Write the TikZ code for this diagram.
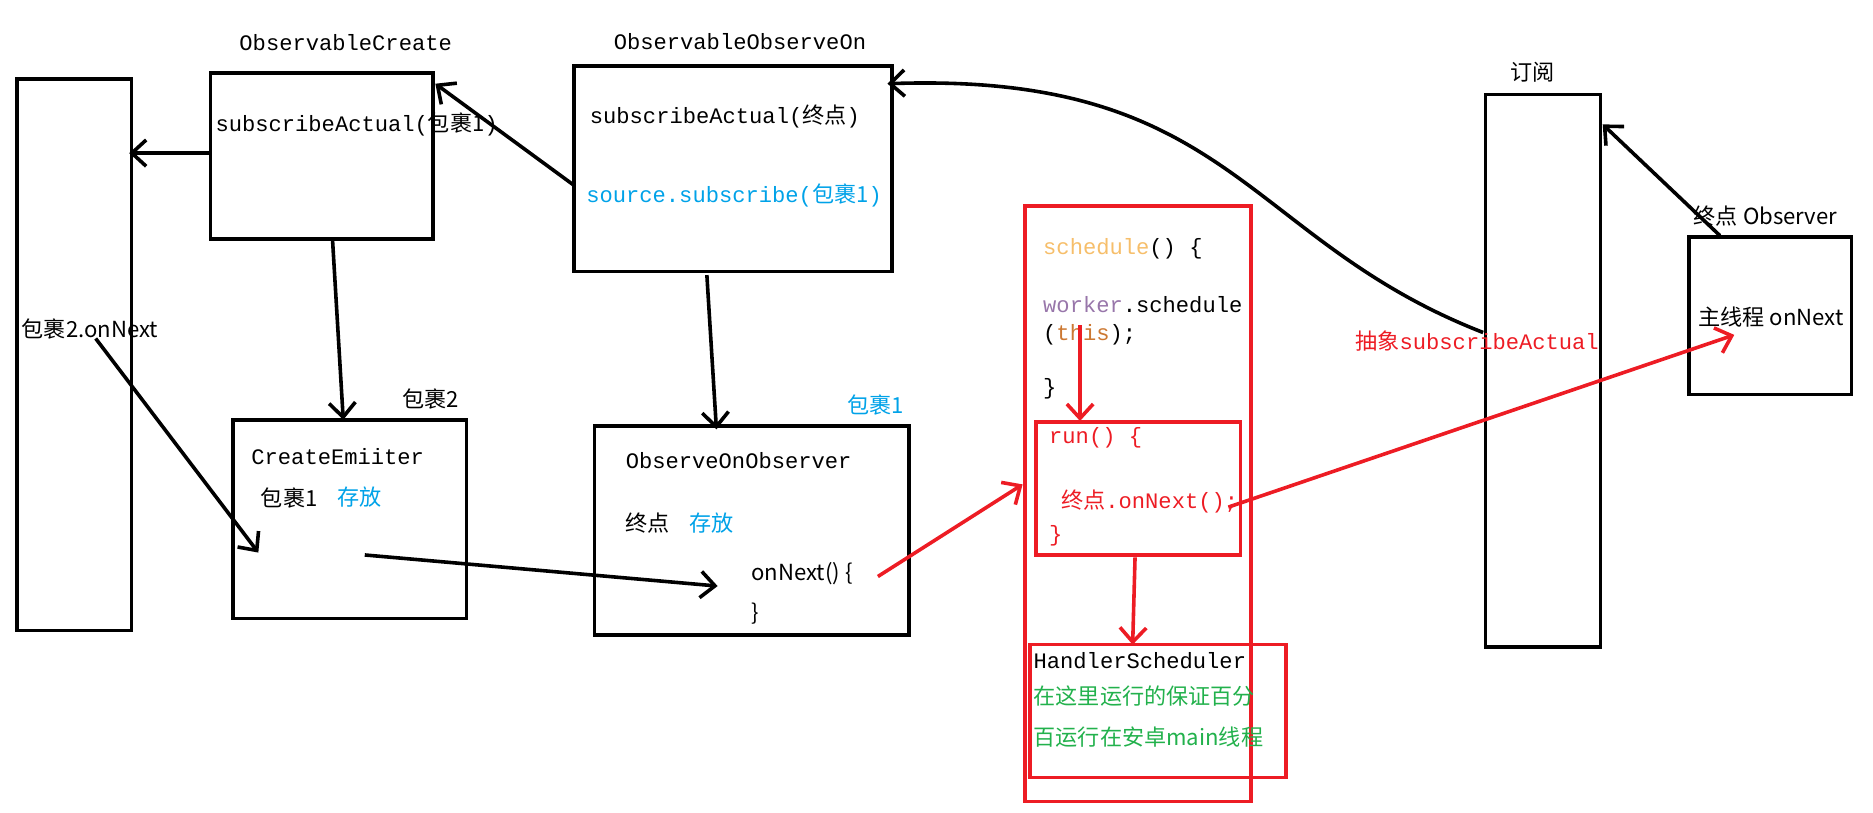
\documentclass[tikz,border=0pt]{standalone}
\usepackage{fontspec}
\setmainfont{Noto Sans CJK SC}
\newfontfamily\mono{Liberation Mono}
\newfontfamily\cjk{Noto Sans CJK SC}
\usetikzlibrary{arrows.meta}
\definecolor{rd}{HTML}{ED1C24}
\definecolor{bl}{HTML}{00A2E8}
\definecolor{gr}{HTML}{22B14C}
\definecolor{sch}{HTML}{F6BE6A}
\definecolor{wk}{HTML}{9876AA}
\definecolor{th}{HTML}{CC7832}
\begin{document}
\begin{tikzpicture}[x=1pt,y=-1pt,
  box/.style={draw=black,line width=3pt},
  rbox/.style={draw=rd,line width=3pt},
  t/.style={anchor=west,inner sep=0pt,font=\fontsize{18.5}{22}\selectfont},
  m/.style={anchor=west,inner sep=0pt,font=\fontsize{18.5}{22}\selectfont\mono},
  ar/.style={line width=3pt,-{Straight Barb[length=12pt,width=22pt,line width=3pt]}},
  rar/.style={ar,draw=rd}]
\useasboundingbox (0,0) rectangle (1566,679);
\draw[box] (14,66) rectangle (110,527);
\node[t] (l1) at (18,275) {包裹2.onNext};
% ObservableCreate
\node[m] (oc) at (200,36) {ObservableCreate};
\draw[box] (176,61) rectangle (362,200);
\node[m] (oct) at (180,104) {subscribeActual({\cjk 包裹1})};
% ObservableObserveOn
\node[m] (oo) at (513,35) {ObservableObserveOn};
\draw[box] (480,55) rectangle (746,227);
\node[m] (oot) at (493,97) {subscribeActual({\cjk 终点})};
\node[m,text=bl] (oos) at (490,163) {source.subscribe({\cjk 包裹1})};
% CreateEmiiter
\draw[box] (195,351) rectangle (390,517);
\node[t] (b2) at (336,334) {包裹2};
\node[m] (ce) at (210,382) {CreateEmiiter};
\node[t] (ce1) at (218,416) {包裹1};
\node[t,text=bl] (ce2) at (282,416) {存放};
% ObserveOnObserver
\draw[box] (497,356) rectangle (760,531);
\node[t,text=bl] (b1) at (708,339) {包裹1};
\node[m] (oob) at (523,385) {ObserveOnObserver};
\node[t] (z1) at (523,437) {终点};
\node[t,text=bl] (z2) at (576,437) {存放};
\node[t] (on) at (628,480) {onNext() \{};
\node[t] (onc) at (628,513) {\}};
% red boxes
\draw[rbox] (857,172) rectangle (1046,670);
\node[m,text=sch] (s1) at (872,208) {schedule\textcolor{black}{() \{}};
\node[m,text=wk] (s2) at (872,255) {worker\textcolor{black}{.schedule}};
\node[m] (s3) at (872,280) {(\textcolor{th}{this});};
\node[m] (s4) at (872,325) {\}};
\draw[rbox] (866,353) rectangle (1037,464);
\node[m,text=rd] (r1) at (877,366) {run() \{};
\node[m,text=rd] (r2) at (887,419) {{\cjk 终点}.onNext();};
\node[m,text=rd] (r3) at (877,448) {\}};
\draw[rbox] (861,539) rectangle (1075,650);
\node[m] (h1) at (864,552) {HandlerScheduler};
\node[t,text=gr] (h2) at (864,582) {在这里运行的保证百分};
\node[t,text=gr] (h3) at (864,616) {百运行在安卓main线程};
% subscribe
\node[t] (dy) at (1263,60) {订阅};
\draw[box] (1242,79) rectangle (1338,541);
\node[m,text=rd] (abs) at (1133,285) {{\cjk 抽象}subscribeActual};
% Observer
\node[t] (zo) at (1416,181) {终点 Observer};
\draw[box] (1412,198) rectangle (1548,330);
\node[t] (mt) at (1420,265) {主线程 onNext};
% coordinates
\coordinate (a1s) at (176,128); \coordinate (a1e) at (108,128);
\coordinate (a2s) at (480,155); \coordinate (a2e) at (364,70);
\coordinate (a3s) at (278,200); \coordinate (a3e) at (287,351);
\coordinate (a4s) at (591,230); \coordinate (a4e) at (599,359);
\coordinate (cs) at (1240,278); \coordinate (ce) at (742,70);
\coordinate (a5s) at (1438,197); \coordinate (a5e) at (1340,104);
\coordinate (a6s) at (80,283); \coordinate (a6e) at (216,462);
\coordinate (a7s) at (305,464); \coordinate (a7e) at (600,490);
\coordinate (r1s) at (734,482); \coordinate (r1e) at (855,405);
\coordinate (r2s) at (903,272); \coordinate (r2e) at (903,352);
\coordinate (r3s) at (949,466); \coordinate (r3e) at (947,539);
\coordinate (r4s) at (1027,424); \coordinate (r4e) at (1450,280);
\draw[ar] (a1s) -- (a1e);
\draw[ar] (a2s) -- (a2e);
\draw[ar] (a3s) -- (a3e);
\draw[ar] (a4s) -- (a4e);
\draw[ar] (cs) .. controls (1040,200) and (1030,60) .. (ce);
\draw[ar] (a5s) -- (a5e);
\draw[ar] (a6s) -- (a6e);
\draw[ar] (a7s) -- (a7e);
\draw[rar] (r1s) -- (r1e);
\draw[rar] (r2s) -- (r2e);
\draw[rar] (r3s) -- (r3e);
\draw[rar] (r4s) -- (r4e);
\end{tikzpicture}
\end{document}
